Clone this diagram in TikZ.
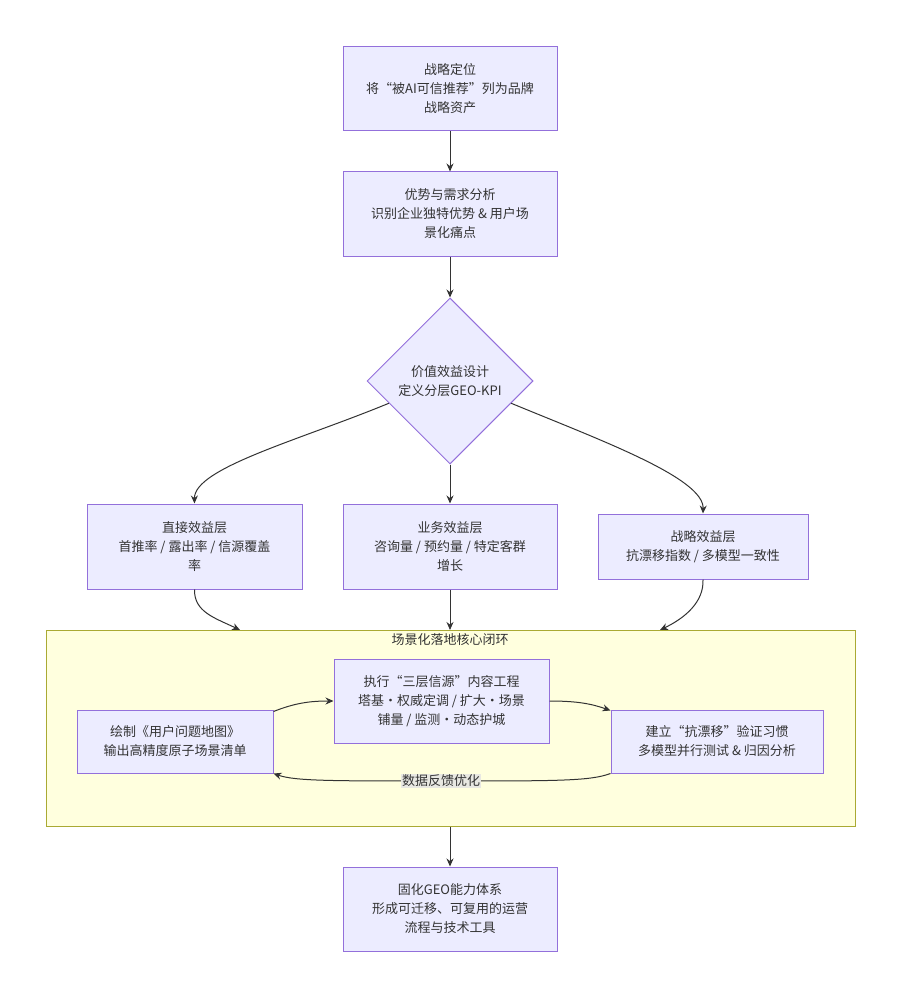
\documentclass[tikz,border=0pt]{standalone}
\usepackage{fontspec}
\newfontfamily\cjk{Noto Sans CJK SC}
\usetikzlibrary{arrows.meta,shapes.geometric}
\definecolor{nodefill}{HTML}{ECECFF}
\definecolor{nodeline}{HTML}{9370DB}
\definecolor{clufill}{HTML}{FFFFDE}
\definecolor{cluline}{HTML}{AAAA33}
\definecolor{edgecol}{HTML}{333333}
\definecolor{lblfill}{HTML}{E8E8E2}
\begin{document}
\begin{tikzpicture}[x=1pt,y=-1pt,
  txt/.style={font=\cjk\fontsize{13}{19}\selectfont, text=edgecol, align=center},
  box/.style={txt, draw=nodeline, fill=nodefill, line width=1pt, inner sep=0pt},
  dia/.style={txt, shape=diamond, aspect=1, draw=nodeline, fill=nodefill, line width=1pt, inner sep=0pt, minimum width=166pt, minimum height=166pt},
  clu/.style={draw=cluline, fill=clufill, line width=1pt, inner sep=0pt},
  conn/.style={draw=edgecol, line width=1pt, -{Stealth[length=8pt,width=7pt]}},
  lbl/.style={txt, fill=lblfill, inner sep=1pt}
]
\path[use as bounding box, fill=white] (0,0) rectangle (902,1000);

% cluster
\node[clu, minimum width=809pt, minimum height=196pt] (clu) at (450.5,728) {};
\node[txt] (clutitle) at (450,640) {场景化落地核心闭环};

% main nodes
\node[box, minimum width=214pt, minimum height=84pt] (n1) at (450,89) {战略定位\\将“被AI可信推荐”列为品牌\\战略资产};
\node[box, minimum width=214pt, minimum height=84pt] (n2) at (450,214) {优势与需求分析\\识别企业独特优势 \& 用户场\\景化痛点};
\node[dia] (d) at (450,381) {价值效益设计\\定义分层GEO-KPI};
\node[box, minimum width=215pt, minimum height=85pt] (n4) at (194.5,546.5) {直接效益层\\首推率 / 露出率 / 信源覆盖\\率};
\node[box, minimum width=214pt, minimum height=85pt] (n5) at (450,546.5) {业务效益层\\咨询量 / 预约量 / 特定客群\\增长};
\node[box, minimum width=210pt, minimum height=65pt] (n6) at (703,546.5) {战略效益层\\抗漂移指数 / 多模型一致性};

% loop nodes
\node[box, minimum width=196pt, minimum height=63pt] (l1) at (175,741.5) {绘制《用户问题地图》\\输出高精度原子场景清单};
\node[box, minimum width=215pt, minimum height=84pt] (l2) at (441.5,701) {执行“三层信源”内容工程\\塔基·权威定调 / 扩大·场景\\铺量 / 监测·动态护城};
\node[box, minimum width=212pt, minimum height=63pt] (l3) at (717,741.5) {建立“抗漂移”验证习惯\\多模型并行测试 \& 归因分析};

\node[box, minimum width=214pt, minimum height=84pt] (n7) at (450,909) {固化GEO能力体系\\形成可迁移、可复用的运营\\流程与技术工具};

% connectors
\draw[conn] (n1.south) -- (n2.north);
\draw[conn] (n2.south) -- (d.north);
\draw[conn] (d.south) -- (n5.north);
\draw[conn] (d.200) .. controls (300,440) and (194,468) .. (n4.north);
\draw[conn] (d.-20) .. controls (600,440) and (704,478) .. (n6.north);

\coordinate (c1) at (240,630);
\coordinate (c2) at (450,630);
\coordinate (c3) at (660,630);
\draw[conn] (n4.south) .. controls (194,612) and (215,618) .. (c1);
\draw[conn] (n5.south) -- (c2);
\draw[conn] (n6.south) .. controls (704,602) and (685,618) .. (c3);
\draw[conn] (clu.south -| n7.north) -- (n7.north);

\draw[conn] ([yshift=-2pt]l1.north east) .. controls (295,703) and (310,701) .. (l2.west);
\draw[conn] (l2.east) .. controls (578,701) and (592,704) .. ([yshift=-1pt]l3.north west);
\node[lbl] (fb) at (441,781) {数据反馈优化};
\draw[conn] (l3.south west) .. controls (590,781) and (560,781) .. (fb.center) .. controls (330,781) and (295,781) .. (l1.south east);
\node[lbl] at (fb) {数据反馈优化};
\end{tikzpicture}
\end{document}
